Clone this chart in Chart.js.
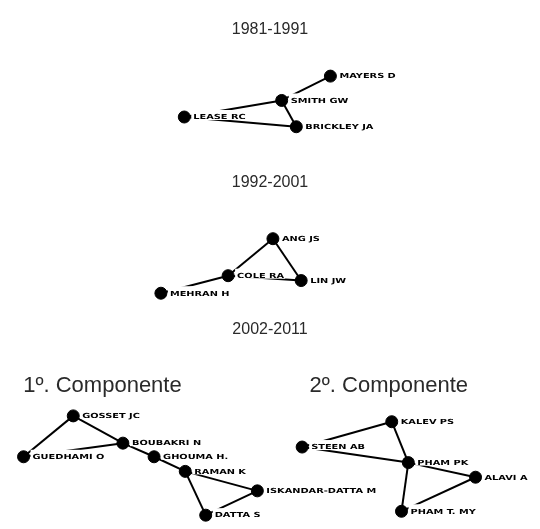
<!DOCTYPE html>
<html>
<head>
<meta charset="utf-8">
<script src="https://cdn.jsdelivr.net/npm/chart.js@4.4.0/dist/chart.umd.min.js"></script>
<style>
  html, body { margin: 0; padding: 0; background: #fff; }
  canvas { display: block; }
</style>
</head>
<body>
<canvas id="net" width="540" height="529"></canvas>
<script>
// co-authorship networks, node layout (0..540 x 0..529)
const authors8191 = ['MAYERS D', 'SMITH GW', 'LEASE RC', 'BRICKLEY JA'];
const x8191 = [332, 282, 182, 297];
const y8191 = [71, 96, 113, 123];
const links8191 = [[0, 1], [1, 2], [1, 3], [2, 3]];

const authors9201 = ['ANG JS', 'COLE RA', 'LIN JW', 'MEHRAN H'];
const x9201 = [273, 227, 302, 158];
const y9201 = [238, 276, 281, 294];
const links9201 = [[0, 1], [0, 2], [1, 2], [1, 3]];

const authorsComp1 = ['GOSSET JC', 'BOUBAKRI N', 'GUEDHAMI O', 'GHOUMA H.', 'RAMAN K', 'ISKANDAR-DATTA M', 'DATTA S'];
const xComp1 = [68, 119, 17, 151, 183, 257, 204];
const yComp1 = [420, 448, 462, 462, 477, 497, 522];
const linksComp1 = [[0, 2], [0, 1], [1, 2], [1, 3], [3, 4], [4, 5], [4, 6], [6, 5]];

const authorsComp2 = ['KALEV PS', 'STEEN AB', 'PHAM PK', 'ALAVI A', 'PHAM T. MY'];
const xComp2 = [395, 303, 412, 481, 405];
const yComp2 = [426, 452, 468, 483, 518];
const linksComp2 = [[0, 1], [0, 2], [1, 2], [2, 3], [2, 4], [3, 4]];

const periods = ['1981-1991', '1992-2001', '2002-2011'];
const components = ['1º. Componente', '2º. Componente'];

const networks = [
  {names: authors8191, xs: x8191, ys: y8191, links: links8191},
  {names: authors9201, xs: x9201, ys: y9201, links: links9201},
  {names: authorsComp1, xs: xComp1, ys: yComp1, links: linksComp1},
  {names: authorsComp2, xs: xComp2, ys: yComp2, links: linksComp2},
];

const datasets = [];
networks.forEach(function(net) {
  net.links.forEach(function(l) {
    datasets.push({
      type: 'scatter',
      showLine: true,
      data: [{x: net.xs[l[0]], y: net.ys[l[0]]}, {x: net.xs[l[1]], y: net.ys[l[1]]}],
      borderColor: '#000',
      borderWidth: 2,
      pointRadius: 0,
      order: 2,
    });
  });
  datasets.push({
    type: 'scatter',
    data: net.names.map(function(n, i) { return {x: net.xs[i], y: net.ys[i]}; }),
    names: net.names,
    backgroundColor: '#000',
    borderColor: '#000',
    pointRadius: 6,
    order: 1,
  });
});

// author names next to each node, on a white strip that hides the edges behind it
const nodeLabels = {
  id: 'nodeLabels',
  afterDatasetsDraw(chart) {
    const ctx = chart.ctx;
    ctx.save();
    ctx.font = 'bold 7px "DejaVu Sans"';
    ctx.textBaseline = 'middle';
    chart.data.datasets.forEach(function(ds, di) {
      if (!ds.names) return;
      chart.getDatasetMeta(di).data.forEach(function(pt, i) {
        const w = ctx.measureText(ds.names[i]).width * 1.4;
        const x = pt.x + 9;
        ctx.fillStyle = '#fff';
        ctx.fillRect(x - 2, pt.y - 7, w + 3, 10);
        ctx.save();
        ctx.translate(x, pt.y);
        ctx.scale(1.4, 1);
        ctx.fillStyle = '#000';
        ctx.fillText(ds.names[i], 0, 0.5);
        ctx.restore();
      });
    });
    ctx.restore();
  }
};

// period and component headings
const periodSpots = [[270, 23], [270, 180], [270, 331]];
const componentSpots = [[98, 389], [392, 389]];
const headingText = {
  id: 'headingText',
  afterDraw(chart) {
    const ctx = chart.ctx;
    const sx = chart.scales.x, sy = chart.scales.y;
    ctx.save();
    ctx.fillStyle = '#2a2a2a';
    ctx.textAlign = 'center';
    ctx.textBaseline = 'middle';
    ctx.font = '16px "Liberation Sans"';
    periods.forEach(function(h, i) {
      ctx.fillText(h, sx.getPixelForValue(periodSpots[i][0]), sy.getPixelForValue(periodSpots[i][1]));
    });
    ctx.font = '22px "Liberation Sans"';
    components.forEach(function(h, i) {
      ctx.fillText(h, sx.getPixelForValue(componentSpots[i][0]), sy.getPixelForValue(componentSpots[i][1]));
    });
    ctx.restore();
  }
};

new Chart(document.getElementById('net'), {
  type: 'scatter',
  data: {datasets: datasets},
  options: {
    responsive: false,
    animation: false,
    layout: {padding: 0},
    plugins: {legend: {display: false}, tooltip: {enabled: false}},
    scales: {
      x: {type: 'linear', min: 0, max: 540, display: false},
      y: {type: 'linear', min: 0, max: 529, reverse: true, display: false},
    },
  },
  plugins: [nodeLabels, headingText],
});
</script>
</body>
</html>
